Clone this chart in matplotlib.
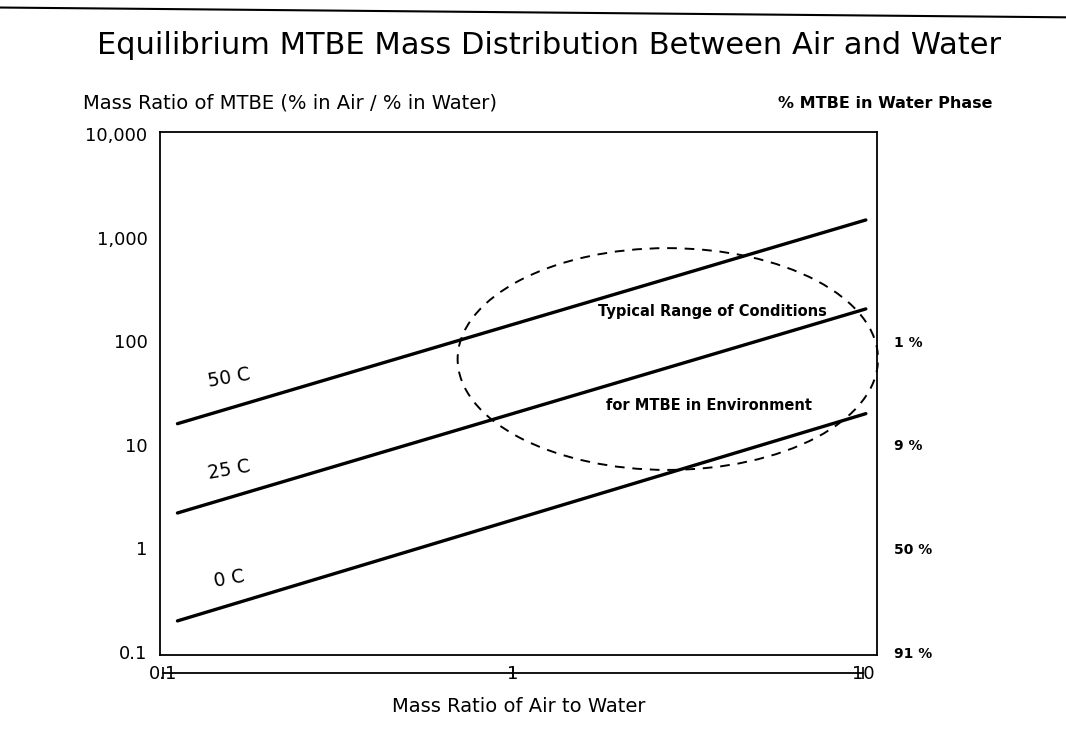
import matplotlib.pyplot as plt
from matplotlib.patches import Ellipse
from matplotlib.lines import Line2D

# data
x_ends = [0.11, 10.2]
ratio_0c = [0.2, 20]
ratio_25c = [2.2, 205]
ratio_50c = [16, 1480]
series = [("0 C", ratio_0c, (0.155, 0.51)),
          ("25 C", ratio_25c, (0.155, 5.7)),
          ("50 C", ratio_50c, (0.155, 44))]

y_ticks = [0.1, 1, 10, 100, 1000, 10000]
y_labels = ["0.1", "1", "10", "100", "1,000", "10,000"]
water_ticks = [100, 10, 1, 0.1]
water_labels = ["1 %", "9 %", "50 %", "91 %"]
x_ticks = [0.1, 1, 10]
x_labels = ["0.1", "1", "10"]

plt.rcParams['font.family'] = ['DejaVu Sans']

fig = plt.figure(figsize=(10.66, 7.53), dpi=100)
ax = fig.add_axes([0.150, 0.130, 0.673, 0.6947])
ax.set_xscale('log')
ax.set_yscale('log')
ax.set_xlim(0.098, 11.0)
ax.set_ylim(0.0935, 10450)

for label, vals, pos in series:
    ax.plot(x_ends, vals, color='black', lw=2.4, solid_capstyle='round')
    ax.text(pos[0], pos[1], label, fontsize=13.5, rotation=10,
            ha='center', va='center')

for sp in ax.spines.values():
    sp.set_linewidth(1.3)

ax.minorticks_off()
ax.set_yticks(y_ticks)
ax.set_yticklabels(y_labels)
ax.tick_params(axis='y', length=0, pad=9, labelsize=13)
ax.tick_params(axis='x', which='both', bottom=False, labelbottom=False)

# right hand scale: % of MTBE left in water
ax_r = ax.twinx()
ax_r.set_yscale('log')
ax_r.set_ylim(ax.get_ylim())
ax_r.minorticks_off()
ax_r.set_yticks(water_ticks)
ax_r.set_yticklabels(water_labels, fontweight='bold')
ax_r.tick_params(axis='y', length=0, pad=12, labelsize=10)
for sp in ax_r.spines.values():
    sp.set_visible(False)

# detached x axis below the box
ax_x = fig.add_axes([0.150, 1 - 673 / 753, 0.673, 0.0001])
ax_x.set_xscale('log')
ax_x.set_xlim(ax.get_xlim())
ax_x.set_yticks([])
ax_x.patch.set_visible(False)
for name in ['top', 'left', 'right']:
    ax_x.spines[name].set_visible(False)
ax_x.spines['bottom'].set_linewidth(1.3)
ax_x.spines['bottom'].set_bounds(0.1, 10)
ax_x.set_xticks(x_ticks)
ax_x.set_xticklabels(x_labels)
ax_x.minorticks_off()
ax_x.tick_params(axis='x', direction='inout', length=8, width=1.2,
                 labelsize=13, pad=-10)
ax_x.set_xlabel("Mass Ratio of Air to Water", fontsize=14, labelpad=10)

# typical range of conditions
ell = Ellipse((0.708, 0.566), 0.586, 0.424, transform=ax.transAxes,
              fill=False, ec='black', lw=1.4, ls=(0, (5, 4)), clip_on=False)
ax.add_patch(ell)
ax.text(1.75, 194, "Typical Range of Conditions", fontsize=10.5,
        fontweight='bold', va='center', ha='left')
ax.text(1.84, 24, "for MTBE in Environment", fontsize=10.5,
        fontweight='bold', va='center', ha='left')

fig.text(0.091, 0.940, "Equilibrium MTBE Mass Distribution Between Air and Water",
         fontsize=22, va='center', ha='left')
fig.text(0.078, 0.863, "Mass Ratio of MTBE (% in Air / % in Water)",
         fontsize=14, va='center', ha='left')
fig.text(0.730, 0.863, "% MTBE in Water Phase", fontsize=11.5,
         fontweight='bold', va='center', ha='left')

# scanned page edge at the top
fig.add_artist(Line2D([0, 1], [0.990, 0.977], color='black', lw=1.5,
                      transform=fig.transFigure))

fig.savefig("out.png", dpi=100)
